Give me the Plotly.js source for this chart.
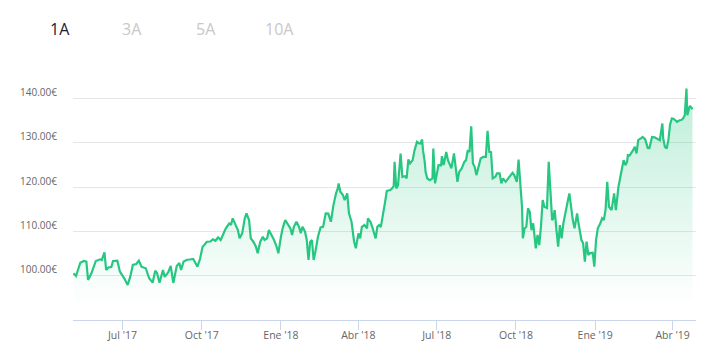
<!DOCTYPE html>
<html>
<head>
<meta charset="utf-8">
<script src="https://cdn.plot.ly/plotly-3.0.1.min.js"></script>
<style>
html,body{margin:0;padding:0;background:#fff;}
#chart{width:713px;height:357px;}
</style>
</head>
<body>
<div id="chart"></div>
<script>
// ---- data ----
const dates = [
"2017-05-05","2017-05-08","2017-05-13","2017-05-17","2017-05-20","2017-05-22","2017-05-26","2017-05-31",
"2017-06-05","2017-06-07","2017-06-10","2017-06-12","2017-06-15","2017-06-18","2017-06-20","2017-06-25","2017-06-28",
"2017-07-03","2017-07-07","2017-07-10","2017-07-13","2017-07-17","2017-07-20","2017-07-23","2017-07-28",
"2017-08-01","2017-08-05","2017-08-08","2017-08-10","2017-08-13","2017-08-17","2017-08-19","2017-08-23","2017-08-26","2017-08-29",
"2017-09-02","2017-09-05","2017-09-07","2017-09-10","2017-09-14","2017-09-17","2017-09-21","2017-09-23","2017-09-26","2017-09-29",
"2017-10-02","2017-10-04","2017-10-07","2017-10-11","2017-10-14","2017-10-17","2017-10-20","2017-10-23","2017-10-26","2017-10-29",
"2017-11-02","2017-11-04","2017-11-06","2017-11-09","2017-11-12","2017-11-14","2017-11-17","2017-11-20","2017-11-22","2017-11-25","2017-11-27","2017-11-30",
"2017-12-03","2017-12-05","2017-12-08","2017-12-11","2017-12-13","2017-12-16","2017-12-18","2017-12-21","2017-12-24","2017-12-27","2017-12-29",
"2018-01-01","2018-01-03","2018-01-06","2018-01-08","2018-01-12","2018-01-14","2018-01-16","2018-01-19","2018-01-22","2018-01-24","2018-01-26","2018-01-29","2018-01-31",
"2018-02-02","2018-02-04","2018-02-06","2018-02-08","2018-02-10","2018-02-13","2018-02-16","2018-02-19","2018-02-22","2018-02-25","2018-02-28",
"2018-03-03","2018-03-06","2018-03-08","2018-03-09","2018-03-11","2018-03-14","2018-03-16","2018-03-19","2018-03-21","2018-03-24","2018-03-27","2018-03-29",
"2018-04-01","2018-04-03","2018-04-05","2018-04-08","2018-04-11","2018-04-12","2018-04-15","2018-04-17","2018-04-19","2018-04-21","2018-04-23","2018-04-25","2018-04-27","2018-04-30",
"2018-05-02","2018-05-04","2018-05-08","2018-05-10","2018-05-12","2018-05-13","2018-05-15","2018-05-17","2018-05-20","2018-05-22","2018-05-25","2018-05-27","2018-05-29","2018-05-31",
"2018-06-03","2018-06-05","2018-06-08","2018-06-10","2018-06-12","2018-06-14","2018-06-15","2018-06-17","2018-06-18","2018-06-20","2018-06-23","2018-06-26","2018-06-27","2018-06-29",
"2018-07-01","2018-07-03","2018-07-06","2018-07-07","2018-07-09","2018-07-12","2018-07-14","2018-07-16","2018-07-18","2018-07-21","2018-07-23","2018-07-25","2018-07-27","2018-07-30",
"2018-08-02","2018-08-04","2018-08-06","2018-08-08","2018-08-10","2018-08-12","2018-08-14","2018-08-16","2018-08-18","2018-08-21","2018-08-24","2018-08-27","2018-08-29","2018-08-31",
"2018-09-02","2018-09-04","2018-09-07","2018-09-09","2018-09-12","2018-09-14","2018-09-16","2018-09-19","2018-09-22","2018-09-25","2018-09-27","2018-09-29",
"2018-10-01","2018-10-02","2018-10-04","2018-10-06","2018-10-08","2018-10-09","2018-10-11","2018-10-13","2018-10-15","2018-10-17","2018-10-19","2018-10-21","2018-10-24","2018-10-26","2018-10-28","2018-10-30",
"2018-11-01","2018-11-03","2018-11-06","2018-11-08","2018-11-10","2018-11-12","2018-11-13","2018-11-15","2018-11-17","2018-11-19","2018-11-21","2018-11-23","2018-11-25","2018-11-28","2018-11-30",
"2018-12-02","2018-12-04","2018-12-06","2018-12-08","2018-12-11","2018-12-12","2018-12-14","2018-12-16","2018-12-18","2018-12-20","2018-12-22","2018-12-24","2018-12-26","2018-12-28","2018-12-29","2018-12-31",
"2019-01-02","2019-01-04","2019-01-07","2019-01-09","2019-01-11","2019-01-13","2019-01-15","2019-01-17","2019-01-20","2019-01-23","2019-01-25","2019-01-28","2019-01-31",
"2019-02-03","2019-02-05","2019-02-07","2019-02-08","2019-02-10","2019-02-14","2019-02-16","2019-02-18","2019-02-20","2019-02-23","2019-02-25","2019-02-28",
"2019-03-03","2019-03-05","2019-03-07","2019-03-08","2019-03-11","2019-03-14","2019-03-17","2019-03-20","2019-03-21","2019-03-23","2019-03-25","2019-03-27","2019-03-29","2019-03-31",
"2019-04-02","2019-04-04","2019-04-06","2019-04-09","2019-04-11","2019-04-13","2019-04-15","2019-04-17","2019-04-18","2019-04-20","2019-04-21","2019-04-23","2019-04-24"
];
const prices = [
100.54,99.93,102.93,103.31,103.15,99.03,100.61,103.31,
103.69,103.54,105.27,101.28,101.89,101.96,103.31,103.38,100.90,
99.41,97.91,99.77,102.41,102.63,103.38,102.03,101.67,
99.41,98.42,101.13,100.61,98.42,101.28,99.71,100.72,102.18,98.36,
102.18,102.86,101.28,103.20,103.60,103.65,103.76,103.15,102.03,103.76,
106.53,106.91,107.66,107.70,108.20,107.88,108.65,108.04,109.17,110.67,
111.80,111.42,112.93,111.42,110.29,108.42,109.55,112.93,114.05,112.54,108.42,107.66,
106.53,105.04,107.66,108.78,108.04,108.42,110.29,109.17,108.04,106.53,105.04,
108.78,110.67,112.54,111.80,110.67,109.17,111.03,112.16,111.03,109.55,111.03,109.91,108.04,
103.54,107.66,108.04,103.54,105.40,108.78,110.90,111.03,114.05,114.00,112.16,
115.92,118.56,119.68,120.81,118.92,118.17,117.05,118.56,114.05,112.16,107.66,106.17,
109.55,108.42,111.03,111.42,110.67,112.93,112.16,111.03,109.91,108.42,111.03,111.42,110.95,114.05,
116.66,119.14,119.30,119.68,120.20,125.67,119.68,120.43,127.56,122.29,122.45,121.93,126.21,125.31,
126.06,128.15,130.18,129.88,129.82,130.72,128.31,125.67,123.42,121.93,121.55,121.93,128.69,120.81,
122.68,124.93,124.90,126.96,124.93,127.92,126.06,125.31,124.19,127.56,123.80,121.17,123.42,124.19,
125.67,126.06,128.31,127.92,133.71,125.31,124.55,122.68,124.19,126.44,126.80,126.80,132.65,127.92,
127.86,121.93,122.29,123.06,123.06,120.81,121.93,121.17,121.93,122.68,123.20,122.68,
121.39,121.17,126.21,120.04,115.54,108.42,110.67,111.03,115.18,114.41,110.29,111.80,106.17,109.17,106.91,111.03,
117.05,115.54,115.25,125.67,119.30,112.54,112.77,114.80,110.29,106.53,111.42,108.42,111.80,115.18,116.66,
118.56,115.18,112.54,110.67,114.05,112.54,110.67,108.04,107.30,103.15,107.66,104.66,105.11,105.04,105.34,102.03,
108.04,110.67,111.80,112.93,112.54,114.80,121.17,115.54,114.80,118.56,114.80,120.04,123.06,
126.06,124.93,125.67,127.18,127.10,128.31,129.05,127.56,130.56,130.94,131.30,130.79,
128.83,128.80,130.18,131.30,131.20,130.94,130.56,134.32,130.94,129.05,128.69,130.56,134.10,135.45,
135.40,135.06,134.68,135.06,135.10,135.45,136.19,142.20,136.19,137.70,138.28,137.83,137.54
];
const xTickVals = ["2017-07-01","2017-10-01","2018-01-01","2018-04-01","2018-07-01","2018-10-01","2019-01-01","2019-04-01"];
const xTickText = ["Jul '17","Oct '17","Ene '18","Abr '18","Jul '18","Oct '18","Ene '19","Abr '19"];
const yTickVals = [90,100,110,120,130,140,150];
const yTickText = ["","100.00€","110.00€","120.00€","130.00€","140.00€",""];
const rangeLabels = ["1A","3A","5A","10A"];

// ---- chart ----
const green = "#27c782";
const trace = {
  x: dates, y: prices, type: "scatter", mode: "lines",
  line: {color: green, width: 2.2},
  fill: "tozeroy",
  fillgradient: {type: "vertical", start: 93, stop: 142,
    colorscale: [[0, "rgba(39,199,130,0)"], [1, "rgba(39,199,130,0.3)"]]},
  hoverinfo: "skip"
};

const labelX = [48, 120, 194, 263];
const annotations = rangeLabels.map((t, i) => ({
  text: t, xref: "paper", yref: "paper",
  x: (labelX[i] - 73) / 623, y: 1 + (54 - 29) / 266,
  xanchor: "left", yanchor: "middle", showarrow: false,
  font: {family: "Open Sans, sans-serif", size: 16, color: i === 0 ? "#1d2033" : "#c8c8c8"}
}));

const layout = {
  width: 713, height: 357,
  margin: {l: 73, r: 17, t: 54, b: 37, pad: 0},
  paper_bgcolor: "#fff", plot_bgcolor: "#fff",
  showlegend: false,
  font: {family: "Open Sans, sans-serif", size: 10, color: "#666"},
  xaxis: {
    type: "date", range: ["2017-05-04 12:00", "2019-04-28 02:00"],
    tickmode: "array", tickvals: xTickVals, ticktext: xTickText,
    showgrid: false, zeroline: false,
    showline: true, linecolor: "#ccd6eb", linewidth: 1,
    ticks: "outside", ticklen: 9, tickcolor: "#ccd6eb", tickwidth: 1,
    ticklabelstandoff: -4,
    tickfont: {size: 10.5, color: "#666"}, fixedrange: true
  },
  yaxis: {
    range: [90, 150], tickmode: "array", tickvals: yTickVals, ticktext: yTickText,
    showgrid: true, gridcolor: "#e6e6e6", gridwidth: 1, zeroline: false,
    showline: false, ticks: "", ticklabelstandoff: 15, ticklabelshift: -6,
    tickfont: {size: 10, color: "#666"}, fixedrange: true
  },
  annotations: annotations
};

Plotly.newPlot("chart", [trace], layout, {displayModeBar: false, staticPlot: true});
</script>
</body>
</html>
